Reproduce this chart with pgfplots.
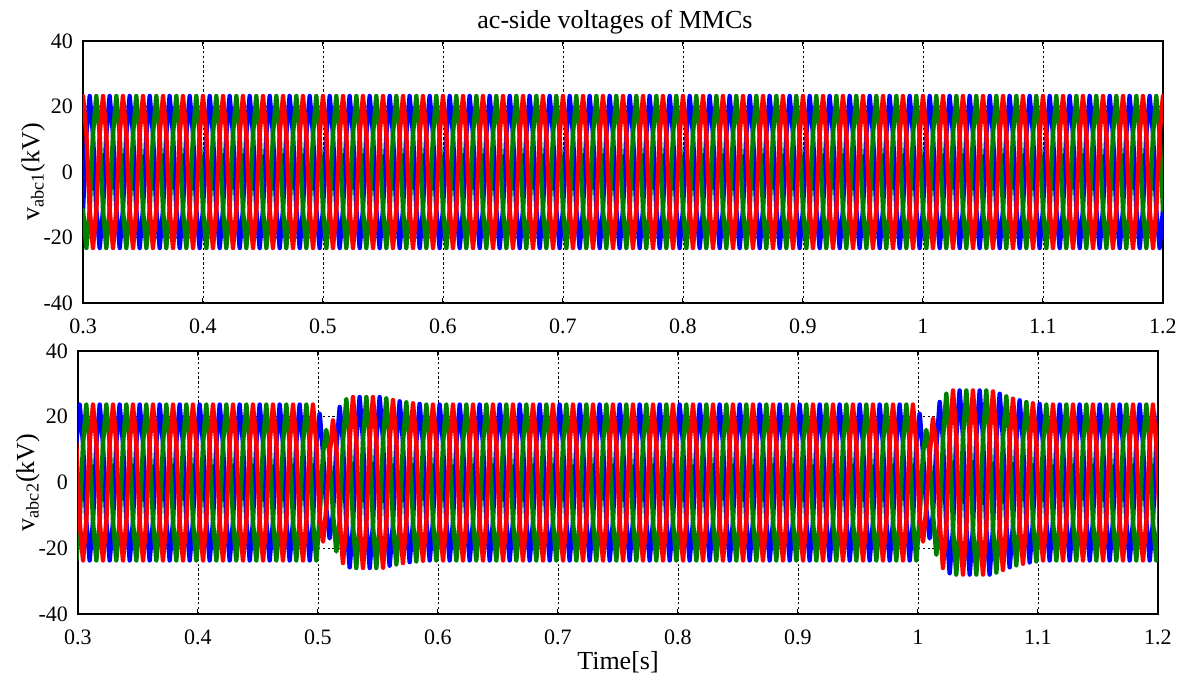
\documentclass[border=0pt]{standalone}
\usepackage{fontspec}
\setmainfont{Liberation Serif}
\usepackage{pgfplots}
\usepackage{pgfplotstable}
\pgfplotsset{compat=1.18}
\definecolor{mblue}{RGB}{0,0,255}
\definecolor{mgreen}{RGB}{0,128,0}
\definecolor{mred}{RGB}{255,0,0}

\pgfplotstableread{
t a b c
0.3000 -11.6 -11.6 23.2
0.3028 11.6 -23.2 11.6
0.3056 23.2 -11.6 -11.6
0.3083 11.6 11.6 -23.2
0.3111 -11.6 23.2 -11.6
0.3139 -23.2 11.6 11.6
0.3167 -11.6 -11.6 23.2
0.3194 11.6 -23.2 11.6
0.3222 23.2 -11.6 -11.6
0.3250 11.6 11.6 -23.2
0.3278 -11.6 23.2 -11.6
0.3306 -23.2 11.6 11.6
0.3333 -11.6 -11.6 23.2
0.3361 11.6 -23.2 11.6
0.3389 23.2 -11.6 -11.6
0.3417 11.6 11.6 -23.2
0.3444 -11.6 23.2 -11.6
0.3472 -23.2 11.6 11.6
0.3500 -11.6 -11.6 23.2
0.3528 11.6 -23.2 11.6
0.3556 23.2 -11.6 -11.6
0.3583 11.6 11.6 -23.2
0.3611 -11.6 23.2 -11.6
0.3639 -23.2 11.6 11.6
0.3667 -11.6 -11.6 23.2
0.3694 11.6 -23.2 11.6
0.3722 23.2 -11.6 -11.6
0.3750 11.6 11.6 -23.2
0.3778 -11.6 23.2 -11.6
0.3806 -23.2 11.6 11.6
0.3833 -11.6 -11.6 23.2
0.3861 11.6 -23.2 11.6
0.3889 23.2 -11.6 -11.6
0.3917 11.6 11.6 -23.2
0.3944 -11.6 23.2 -11.6
0.3972 -23.2 11.6 11.6
0.4000 -11.6 -11.6 23.2
0.4028 11.6 -23.2 11.6
0.4056 23.2 -11.6 -11.6
0.4083 11.6 11.6 -23.2
0.4111 -11.6 23.2 -11.6
0.4139 -23.2 11.6 11.6
0.4167 -11.6 -11.6 23.2
0.4194 11.6 -23.2 11.6
0.4222 23.2 -11.6 -11.6
0.4250 11.6 11.6 -23.2
0.4278 -11.6 23.2 -11.6
0.4306 -23.2 11.6 11.6
0.4333 -11.6 -11.6 23.2
0.4361 11.6 -23.2 11.6
0.4389 23.2 -11.6 -11.6
0.4417 11.6 11.6 -23.2
0.4444 -11.6 23.2 -11.6
0.4472 -23.2 11.6 11.6
0.4500 -11.6 -11.6 23.2
0.4528 11.6 -23.2 11.6
0.4556 23.2 -11.6 -11.6
0.4583 11.6 11.6 -23.2
0.4611 -11.6 23.2 -11.6
0.4639 -23.2 11.6 11.6
0.4667 -11.6 -11.6 23.2
0.4694 11.6 -23.2 11.6
0.4722 23.2 -11.6 -11.6
0.4750 11.6 11.6 -23.2
0.4778 -11.6 23.2 -11.6
0.4806 -23.2 11.6 11.6
0.4833 -11.6 -11.6 23.2
0.4861 11.6 -23.2 11.6
0.4889 23.2 -11.6 -11.6
0.4917 11.6 11.6 -23.2
0.4944 -11.6 23.2 -11.6
0.4972 -23.2 11.6 11.6
0.5000 -11.6 -11.6 23.2
0.5028 11.6 -23.2 11.6
0.5056 23.2 -11.6 -11.6
0.5083 11.6 11.6 -23.2
0.5111 -11.6 23.2 -11.6
0.5139 -23.2 11.6 11.6
0.5167 -11.6 -11.6 23.2
0.5194 11.6 -23.2 11.6
0.5222 23.2 -11.6 -11.6
0.5250 11.6 11.6 -23.2
0.5278 -11.6 23.2 -11.6
0.5306 -23.2 11.6 11.6
0.5333 -11.6 -11.6 23.2
0.5361 11.6 -23.2 11.6
0.5389 23.2 -11.6 -11.6
0.5417 11.6 11.6 -23.2
0.5444 -11.6 23.2 -11.6
0.5472 -23.2 11.6 11.6
0.5500 -11.6 -11.6 23.2
0.5528 11.6 -23.2 11.6
0.5556 23.2 -11.6 -11.6
0.5583 11.6 11.6 -23.2
0.5611 -11.6 23.2 -11.6
0.5639 -23.2 11.6 11.6
0.5667 -11.6 -11.6 23.2
0.5694 11.6 -23.2 11.6
0.5722 23.2 -11.6 -11.6
0.5750 11.6 11.6 -23.2
0.5778 -11.6 23.2 -11.6
0.5806 -23.2 11.6 11.6
0.5833 -11.6 -11.6 23.2
0.5861 11.6 -23.2 11.6
0.5889 23.2 -11.6 -11.6
0.5917 11.6 11.6 -23.2
0.5944 -11.6 23.2 -11.6
0.5972 -23.2 11.6 11.6
0.6000 -11.6 -11.6 23.2
0.6028 11.6 -23.2 11.6
0.6056 23.2 -11.6 -11.6
0.6083 11.6 11.6 -23.2
0.6111 -11.6 23.2 -11.6
0.6139 -23.2 11.6 11.6
0.6167 -11.6 -11.6 23.2
0.6194 11.6 -23.2 11.6
0.6222 23.2 -11.6 -11.6
0.6250 11.6 11.6 -23.2
0.6278 -11.6 23.2 -11.6
0.6306 -23.2 11.6 11.6
0.6333 -11.6 -11.6 23.2
0.6361 11.6 -23.2 11.6
0.6389 23.2 -11.6 -11.6
0.6417 11.6 11.6 -23.2
0.6444 -11.6 23.2 -11.6
0.6472 -23.2 11.6 11.6
0.6500 -11.6 -11.6 23.2
0.6528 11.6 -23.2 11.6
0.6556 23.2 -11.6 -11.6
0.6583 11.6 11.6 -23.2
0.6611 -11.6 23.2 -11.6
0.6639 -23.2 11.6 11.6
0.6667 -11.6 -11.6 23.2
0.6694 11.6 -23.2 11.6
0.6722 23.2 -11.6 -11.6
0.6750 11.6 11.6 -23.2
0.6778 -11.6 23.2 -11.6
0.6806 -23.2 11.6 11.6
0.6833 -11.6 -11.6 23.2
0.6861 11.6 -23.2 11.6
0.6889 23.2 -11.6 -11.6
0.6917 11.6 11.6 -23.2
0.6944 -11.6 23.2 -11.6
0.6972 -23.2 11.6 11.6
0.7000 -11.6 -11.6 23.2
0.7028 11.6 -23.2 11.6
0.7056 23.2 -11.6 -11.6
0.7083 11.6 11.6 -23.2
0.7111 -11.6 23.2 -11.6
0.7139 -23.2 11.6 11.6
0.7167 -11.6 -11.6 23.2
0.7194 11.6 -23.2 11.6
0.7222 23.2 -11.6 -11.6
0.7250 11.6 11.6 -23.2
0.7278 -11.6 23.2 -11.6
0.7306 -23.2 11.6 11.6
0.7333 -11.6 -11.6 23.2
0.7361 11.6 -23.2 11.6
0.7389 23.2 -11.6 -11.6
0.7417 11.6 11.6 -23.2
0.7444 -11.6 23.2 -11.6
0.7472 -23.2 11.6 11.6
0.7500 -11.6 -11.6 23.2
0.7528 11.6 -23.2 11.6
0.7556 23.2 -11.6 -11.6
0.7583 11.6 11.6 -23.2
0.7611 -11.6 23.2 -11.6
0.7639 -23.2 11.6 11.6
0.7667 -11.6 -11.6 23.2
0.7694 11.6 -23.2 11.6
0.7722 23.2 -11.6 -11.6
0.7750 11.6 11.6 -23.2
0.7778 -11.6 23.2 -11.6
0.7806 -23.2 11.6 11.6
0.7833 -11.6 -11.6 23.2
0.7861 11.6 -23.2 11.6
0.7889 23.2 -11.6 -11.6
0.7917 11.6 11.6 -23.2
0.7944 -11.6 23.2 -11.6
0.7972 -23.2 11.6 11.6
0.8000 -11.6 -11.6 23.2
0.8028 11.6 -23.2 11.6
0.8056 23.2 -11.6 -11.6
0.8083 11.6 11.6 -23.2
0.8111 -11.6 23.2 -11.6
0.8139 -23.2 11.6 11.6
0.8167 -11.6 -11.6 23.2
0.8194 11.6 -23.2 11.6
0.8222 23.2 -11.6 -11.6
0.8250 11.6 11.6 -23.2
0.8278 -11.6 23.2 -11.6
0.8306 -23.2 11.6 11.6
0.8333 -11.6 -11.6 23.2
0.8361 11.6 -23.2 11.6
0.8389 23.2 -11.6 -11.6
0.8417 11.6 11.6 -23.2
0.8444 -11.6 23.2 -11.6
0.8472 -23.2 11.6 11.6
0.8500 -11.6 -11.6 23.2
0.8528 11.6 -23.2 11.6
0.8556 23.2 -11.6 -11.6
0.8583 11.6 11.6 -23.2
0.8611 -11.6 23.2 -11.6
0.8639 -23.2 11.6 11.6
0.8667 -11.6 -11.6 23.2
0.8694 11.6 -23.2 11.6
0.8722 23.2 -11.6 -11.6
0.8750 11.6 11.6 -23.2
0.8778 -11.6 23.2 -11.6
0.8806 -23.2 11.6 11.6
0.8833 -11.6 -11.6 23.2
0.8861 11.6 -23.2 11.6
0.8889 23.2 -11.6 -11.6
0.8917 11.6 11.6 -23.2
0.8944 -11.6 23.2 -11.6
0.8972 -23.2 11.6 11.6
0.9000 -11.6 -11.6 23.2
0.9028 11.6 -23.2 11.6
0.9056 23.2 -11.6 -11.6
0.9083 11.6 11.6 -23.2
0.9111 -11.6 23.2 -11.6
0.9139 -23.2 11.6 11.6
0.9167 -11.6 -11.6 23.2
0.9194 11.6 -23.2 11.6
0.9222 23.2 -11.6 -11.6
0.9250 11.6 11.6 -23.2
0.9278 -11.6 23.2 -11.6
0.9306 -23.2 11.6 11.6
0.9333 -11.6 -11.6 23.2
0.9361 11.6 -23.2 11.6
0.9389 23.2 -11.6 -11.6
0.9417 11.6 11.6 -23.2
0.9444 -11.6 23.2 -11.6
0.9472 -23.2 11.6 11.6
0.9500 -11.6 -11.6 23.2
0.9528 11.6 -23.2 11.6
0.9556 23.2 -11.6 -11.6
0.9583 11.6 11.6 -23.2
0.9611 -11.6 23.2 -11.6
0.9639 -23.2 11.6 11.6
0.9667 -11.6 -11.6 23.2
0.9694 11.6 -23.2 11.6
0.9722 23.2 -11.6 -11.6
0.9750 11.6 11.6 -23.2
0.9778 -11.6 23.2 -11.6
0.9806 -23.2 11.6 11.6
0.9833 -11.6 -11.6 23.2
0.9861 11.6 -23.2 11.6
0.9889 23.2 -11.6 -11.6
0.9917 11.6 11.6 -23.2
0.9944 -11.6 23.2 -11.6
0.9972 -23.2 11.6 11.6
1.0000 -11.6 -11.6 23.2
1.0028 11.6 -23.2 11.6
1.0056 23.2 -11.6 -11.6
1.0083 11.6 11.6 -23.2
1.0111 -11.6 23.2 -11.6
1.0139 -23.2 11.6 11.6
1.0167 -11.6 -11.6 23.2
1.0194 11.6 -23.2 11.6
1.0222 23.2 -11.6 -11.6
1.0250 11.6 11.6 -23.2
1.0278 -11.6 23.2 -11.6
1.0306 -23.2 11.6 11.6
1.0333 -11.6 -11.6 23.2
1.0361 11.6 -23.2 11.6
1.0389 23.2 -11.6 -11.6
1.0417 11.6 11.6 -23.2
1.0444 -11.6 23.2 -11.6
1.0472 -23.2 11.6 11.6
1.0500 -11.6 -11.6 23.2
1.0528 11.6 -23.2 11.6
1.0556 23.2 -11.6 -11.6
1.0583 11.6 11.6 -23.2
1.0611 -11.6 23.2 -11.6
1.0639 -23.2 11.6 11.6
1.0667 -11.6 -11.6 23.2
1.0694 11.6 -23.2 11.6
1.0722 23.2 -11.6 -11.6
1.0750 11.6 11.6 -23.2
1.0778 -11.6 23.2 -11.6
1.0806 -23.2 11.6 11.6
1.0833 -11.6 -11.6 23.2
1.0861 11.6 -23.2 11.6
1.0889 23.2 -11.6 -11.6
1.0917 11.6 11.6 -23.2
1.0944 -11.6 23.2 -11.6
1.0972 -23.2 11.6 11.6
1.1000 -11.6 -11.6 23.2
1.1028 11.6 -23.2 11.6
1.1056 23.2 -11.6 -11.6
1.1083 11.6 11.6 -23.2
1.1111 -11.6 23.2 -11.6
1.1139 -23.2 11.6 11.6
1.1167 -11.6 -11.6 23.2
1.1194 11.6 -23.2 11.6
1.1222 23.2 -11.6 -11.6
1.1250 11.6 11.6 -23.2
1.1278 -11.6 23.2 -11.6
1.1306 -23.2 11.6 11.6
1.1333 -11.6 -11.6 23.2
1.1361 11.6 -23.2 11.6
1.1389 23.2 -11.6 -11.6
1.1417 11.6 11.6 -23.2
1.1444 -11.6 23.2 -11.6
1.1472 -23.2 11.6 11.6
1.1500 -11.6 -11.6 23.2
1.1528 11.6 -23.2 11.6
1.1556 23.2 -11.6 -11.6
1.1583 11.6 11.6 -23.2
1.1611 -11.6 23.2 -11.6
1.1639 -23.2 11.6 11.6
1.1667 -11.6 -11.6 23.2
1.1694 11.6 -23.2 11.6
1.1722 23.2 -11.6 -11.6
1.1750 11.6 11.6 -23.2
1.1778 -11.6 23.2 -11.6
1.1806 -23.2 11.6 11.6
1.1833 -11.6 -11.6 23.2
1.1861 11.6 -23.2 11.6
1.1889 23.2 -11.6 -11.6
1.1917 11.6 11.6 -23.2
1.1944 -11.6 23.2 -11.6
1.1972 -23.2 11.6 11.6
1.2000 -11.6 -11.6 23.2
}\topdata

\pgfplotstableread{
t a b c
0.2986 11.9 -23.7 11.9
0.3014 23.7 -11.9 -11.9
0.3042 11.9 11.9 -23.7
0.3069 -11.9 23.7 -11.9
0.3097 -23.7 11.9 11.9
0.3125 -11.9 -11.9 23.7
0.3153 11.9 -23.7 11.9
0.3181 23.7 -11.9 -11.9
0.3208 11.9 11.9 -23.7
0.3236 -11.9 23.7 -11.9
0.3264 -23.7 11.9 11.9
0.3292 -11.9 -11.9 23.7
0.3319 11.9 -23.7 11.9
0.3347 23.7 -11.9 -11.9
0.3375 11.9 11.9 -23.7
0.3403 -11.9 23.7 -11.9
0.3431 -23.7 11.9 11.9
0.3458 -11.9 -11.9 23.7
0.3486 11.9 -23.7 11.9
0.3514 23.7 -11.9 -11.9
0.3542 11.9 11.9 -23.7
0.3569 -11.9 23.7 -11.9
0.3597 -23.7 11.9 11.9
0.3625 -11.9 -11.9 23.7
0.3653 11.9 -23.7 11.9
0.3681 23.7 -11.9 -11.9
0.3708 11.9 11.9 -23.7
0.3736 -11.9 23.7 -11.9
0.3764 -23.7 11.9 11.9
0.3792 -11.9 -11.9 23.7
0.3819 11.9 -23.7 11.9
0.3847 23.7 -11.9 -11.9
0.3875 11.9 11.9 -23.7
0.3903 -11.9 23.7 -11.9
0.3931 -23.7 11.9 11.9
0.3958 -11.9 -11.9 23.7
0.3986 11.9 -23.7 11.9
0.4014 23.7 -11.9 -11.9
0.4042 11.9 11.9 -23.7
0.4069 -11.9 23.7 -11.9
0.4097 -23.7 11.9 11.9
0.4125 -11.9 -11.9 23.7
0.4153 11.9 -23.7 11.9
0.4181 23.7 -11.9 -11.9
0.4208 11.9 11.9 -23.7
0.4236 -11.9 23.7 -11.9
0.4264 -23.7 11.9 11.9
0.4292 -11.9 -11.9 23.7
0.4319 11.9 -23.7 11.9
0.4347 23.7 -11.9 -11.9
0.4375 11.9 11.9 -23.7
0.4403 -11.9 23.7 -11.9
0.4431 -23.7 11.9 11.9
0.4458 -11.9 -11.9 23.7
0.4486 11.9 -23.7 11.9
0.4514 23.7 -11.9 -11.9
0.4542 11.9 11.9 -23.7
0.4569 -11.9 23.7 -11.9
0.4597 -23.7 11.9 11.9
0.4625 -11.9 -11.9 23.7
0.4653 11.9 -23.7 11.9
0.4681 23.7 -11.9 -11.9
0.4708 11.9 11.9 -23.7
0.4736 -11.9 23.7 -11.9
0.4764 -23.7 11.9 11.9
0.4792 -11.9 -11.9 23.7
0.4819 11.9 -23.7 11.9
0.4847 23.7 -11.9 -11.9
0.4875 11.9 11.9 -23.7
0.4903 -11.9 23.7 -11.9
0.4931 -23.7 11.9 11.9
0.4958 -11.9 -11.9 23.7
0.4986 11.9 -23.7 11.9
0.5014 21 -10.5 -10.5
0.5042 9 9 -18
0.5069 -8 16 -8
0.5097 -17 8.5 8.5
0.5125 -9.5 -9.5 19
0.5153 10.5 -21 10.5
0.5181 23 -11.5 -11.5
0.5208 12.3 12.3 -24.5
0.5236 -12.7 25.3 -12.7
0.5264 -25.8 12.9 12.9
0.5292 -13 -13 26
0.5319 13 -26 13
0.5347 26 -13 -13
0.5375 13 13 -26
0.5403 -13 26 -13
0.5431 -26 13 13
0.5458 -13 -13 26
0.5486 13 -26 13
0.5514 26 -13 -13
0.5542 13 13 -25.9
0.5569 -12.8 25.6 -12.8
0.5597 -25.3 12.7 12.7
0.5625 -12.6 -12.6 25.1
0.5653 12.5 -24.9 12.5
0.5681 24.7 -12.4 -12.4
0.5708 12.3 12.3 -24.5
0.5736 -12.2 24.4 -12.2
0.5764 -24.2 12.1 12.1
0.5792 -12.1 -12.1 24.1
0.5819 12 -24 12
0.5847 23.9 -12 -12
0.5875 11.9 11.9 -23.8
0.5903 -11.9 23.7 -11.9
0.5931 -23.7 11.9 11.9
0.5958 -11.9 -11.9 23.7
0.5986 11.9 -23.7 11.9
0.6014 23.7 -11.9 -11.9
0.6042 11.9 11.9 -23.7
0.6069 -11.9 23.7 -11.9
0.6097 -23.7 11.9 11.9
0.6125 -11.9 -11.9 23.7
0.6153 11.9 -23.7 11.9
0.6181 23.7 -11.9 -11.9
0.6208 11.9 11.9 -23.7
0.6236 -11.9 23.7 -11.9
0.6264 -23.7 11.9 11.9
0.6292 -11.9 -11.9 23.7
0.6319 11.9 -23.7 11.9
0.6347 23.7 -11.9 -11.9
0.6375 11.9 11.9 -23.7
0.6403 -11.9 23.7 -11.9
0.6431 -23.7 11.9 11.9
0.6458 -11.9 -11.9 23.7
0.6486 11.9 -23.7 11.9
0.6514 23.7 -11.9 -11.9
0.6542 11.9 11.9 -23.7
0.6569 -11.9 23.7 -11.9
0.6597 -23.7 11.9 11.9
0.6625 -11.9 -11.9 23.7
0.6653 11.9 -23.7 11.9
0.6681 23.7 -11.9 -11.9
0.6708 11.9 11.9 -23.7
0.6736 -11.9 23.7 -11.9
0.6764 -23.7 11.9 11.9
0.6792 -11.9 -11.9 23.7
0.6819 11.9 -23.7 11.9
0.6847 23.7 -11.9 -11.9
0.6875 11.9 11.9 -23.7
0.6903 -11.9 23.7 -11.9
0.6931 -23.7 11.9 11.9
0.6958 -11.9 -11.9 23.7
0.6986 11.9 -23.7 11.9
0.7014 23.7 -11.9 -11.9
0.7042 11.9 11.9 -23.7
0.7069 -11.9 23.7 -11.9
0.7097 -23.7 11.9 11.9
0.7125 -11.9 -11.9 23.7
0.7153 11.9 -23.7 11.9
0.7181 23.7 -11.9 -11.9
0.7208 11.9 11.9 -23.7
0.7236 -11.9 23.7 -11.9
0.7264 -23.7 11.9 11.9
0.7292 -11.9 -11.9 23.7
0.7319 11.9 -23.7 11.9
0.7347 23.7 -11.9 -11.9
0.7375 11.9 11.9 -23.7
0.7403 -11.9 23.7 -11.9
0.7431 -23.7 11.9 11.9
0.7458 -11.9 -11.9 23.7
0.7486 11.9 -23.7 11.9
0.7514 23.7 -11.9 -11.9
0.7542 11.9 11.9 -23.7
0.7569 -11.9 23.7 -11.9
0.7597 -23.7 11.9 11.9
0.7625 -11.9 -11.9 23.7
0.7653 11.9 -23.7 11.9
0.7681 23.7 -11.9 -11.9
0.7708 11.9 11.9 -23.7
0.7736 -11.9 23.7 -11.9
0.7764 -23.7 11.9 11.9
0.7792 -11.9 -11.9 23.7
0.7819 11.9 -23.7 11.9
0.7847 23.7 -11.9 -11.9
0.7875 11.9 11.9 -23.7
0.7903 -11.9 23.7 -11.9
0.7931 -23.7 11.9 11.9
0.7958 -11.9 -11.9 23.7
0.7986 11.9 -23.7 11.9
0.8014 23.7 -11.9 -11.9
0.8042 11.9 11.9 -23.7
0.8069 -11.9 23.7 -11.9
0.8097 -23.7 11.9 11.9
0.8125 -11.9 -11.9 23.7
0.8153 11.9 -23.7 11.9
0.8181 23.7 -11.9 -11.9
0.8208 11.9 11.9 -23.7
0.8236 -11.9 23.7 -11.9
0.8264 -23.7 11.9 11.9
0.8292 -11.9 -11.9 23.7
0.8319 11.9 -23.7 11.9
0.8347 23.7 -11.9 -11.9
0.8375 11.9 11.9 -23.7
0.8403 -11.9 23.7 -11.9
0.8431 -23.7 11.9 11.9
0.8458 -11.9 -11.9 23.7
0.8486 11.9 -23.7 11.9
0.8514 23.7 -11.9 -11.9
0.8542 11.9 11.9 -23.7
0.8569 -11.9 23.7 -11.9
0.8597 -23.7 11.9 11.9
0.8625 -11.9 -11.9 23.7
0.8653 11.9 -23.7 11.9
0.8681 23.7 -11.9 -11.9
0.8708 11.9 11.9 -23.7
0.8736 -11.9 23.7 -11.9
0.8764 -23.7 11.9 11.9
0.8792 -11.9 -11.9 23.7
0.8819 11.9 -23.7 11.9
0.8847 23.7 -11.9 -11.9
0.8875 11.9 11.9 -23.7
0.8903 -11.9 23.7 -11.9
0.8931 -23.7 11.9 11.9
0.8958 -11.9 -11.9 23.7
0.8986 11.9 -23.7 11.9
0.9014 23.7 -11.9 -11.9
0.9042 11.9 11.9 -23.7
0.9069 -11.9 23.7 -11.9
0.9097 -23.7 11.9 11.9
0.9125 -11.9 -11.9 23.7
0.9153 11.9 -23.7 11.9
0.9181 23.7 -11.9 -11.9
0.9208 11.9 11.9 -23.7
0.9236 -11.9 23.7 -11.9
0.9264 -23.7 11.9 11.9
0.9292 -11.9 -11.9 23.7
0.9319 11.9 -23.7 11.9
0.9347 23.7 -11.9 -11.9
0.9375 11.9 11.9 -23.7
0.9403 -11.9 23.7 -11.9
0.9431 -23.7 11.9 11.9
0.9458 -11.9 -11.9 23.7
0.9486 11.9 -23.7 11.9
0.9514 23.7 -11.9 -11.9
0.9542 11.9 11.9 -23.7
0.9569 -11.9 23.7 -11.9
0.9597 -23.7 11.9 11.9
0.9625 -11.9 -11.9 23.7
0.9653 11.9 -23.7 11.9
0.9681 23.7 -11.9 -11.9
0.9708 11.9 11.9 -23.7
0.9736 -11.9 23.7 -11.9
0.9764 -23.7 11.9 11.9
0.9792 -11.9 -11.9 23.7
0.9819 11.9 -23.7 11.9
0.9847 23.7 -11.9 -11.9
0.9875 11.9 11.9 -23.7
0.9903 -11.9 23.7 -11.9
0.9931 -23.7 11.9 11.9
0.9958 -11.9 -11.9 23.7
0.9986 11.9 -23.7 11.9
1.0014 21 -10.5 -10.5
1.0042 9 9 -18
1.0069 -8 16 -8
1.0097 -17 8.5 8.5
1.0125 -9.8 -9.8 19.5
1.0153 11 -22 11
1.0181 24.5 -12.3 -12.3
1.0208 13 13 -26
1.0236 -13.5 27 -13.5
1.0264 -27.6 13.8 13.8
1.0292 -14 -14 28
1.0319 14 -28 14
1.0347 28 -14 -14
1.0375 14 14 -28
1.0403 -14 28 -14
1.0431 -28 14 14
1.0458 -14 -14 28
1.0486 14 -28 14
1.0514 28 -14 -14
1.0542 14 14 -28
1.0569 -14 28 -14
1.0597 -28 14 14
1.0625 -13.9 -13.9 27.7
1.0653 13.7 -27.4 13.7
1.0681 27 -13.5 -13.5
1.0708 13.3 13.3 -26.6
1.0736 -13.1 26.2 -13.1
1.0764 -25.8 12.9 12.9
1.0792 -12.8 -12.8 25.5
1.0819 12.6 -25.2 12.6
1.0847 25 -12.5 -12.5
1.0875 12.4 12.4 -24.7
1.0903 -12.3 24.5 -12.3
1.0931 -24.3 12.2 12.2
1.0958 -12.1 -12.1 24.1
1.0986 12 -24 12
1.1014 23.9 -12 -12
1.1042 11.9 11.9 -23.7
1.1069 -11.9 23.7 -11.9
1.1097 -23.7 11.9 11.9
1.1125 -11.9 -11.9 23.7
1.1153 11.9 -23.7 11.9
1.1181 23.7 -11.9 -11.9
1.1208 11.9 11.9 -23.7
1.1236 -11.9 23.7 -11.9
1.1264 -23.7 11.9 11.9
1.1292 -11.9 -11.9 23.7
1.1319 11.9 -23.7 11.9
1.1347 23.7 -11.9 -11.9
1.1375 11.9 11.9 -23.7
1.1403 -11.9 23.7 -11.9
1.1431 -23.7 11.9 11.9
1.1458 -11.9 -11.9 23.7
1.1486 11.9 -23.7 11.9
1.1514 23.7 -11.9 -11.9
1.1542 11.9 11.9 -23.7
1.1569 -11.9 23.7 -11.9
1.1597 -23.7 11.9 11.9
1.1625 -11.9 -11.9 23.7
1.1653 11.9 -23.7 11.9
1.1681 23.7 -11.9 -11.9
1.1708 11.9 11.9 -23.7
1.1736 -11.9 23.7 -11.9
1.1764 -23.7 11.9 11.9
1.1792 -11.9 -11.9 23.7
1.1819 11.9 -23.7 11.9
1.1847 23.7 -11.9 -11.9
1.1875 11.9 11.9 -23.7
1.1903 -11.9 23.7 -11.9
1.1931 -23.7 11.9 11.9
1.1958 -11.9 -11.9 23.7
1.1986 11.9 -23.7 11.9
1.2014 23.7 -11.9 -11.9
}\botdata

\pgfplotsset{
  mmc/.style={
    scale only axis, width=540pt,
    xmin=0.3, xmax=1.2, ymin=-40, ymax=40,
    xtick={0.3,0.4,0.5,0.6,0.7,0.8,0.9,1,1.1,1.2},
    xticklabels={0.3,0.4,0.5,0.6,0.7,0.8,0.9,1,1.1,1.2},
    ytick={-40,-20,0,20,40},
    yticklabels={-40,-20,0,20,40},
    grid=major,
    major grid style={black, line width=0.4pt, dash pattern=on 1.2pt off 1.2pt},
    tick align=inside, major tick length=2.5pt,
    every tick/.style={black, line width=0.5pt},
    axis line style={black, line width=0.6pt},
    tick label style={font=\fontsize{11}{13}\selectfont},
    xticklabel style={yshift=-4.5pt},
    yticklabel style={xshift=-1.5pt},
    every axis y label/.style={at={(axis description cs:0,0.5)}, xshift=-25pt, rotate=90, anchor=center, font=\fontsize{13}{15}\selectfont},
    every axis x label/.style={at={(axis description cs:0.5,0)}, yshift=-24pt, anchor=center, font=\fontsize{13}{15}\selectfont},
    every axis title/.style={at={(axis description cs:0.5,1)}, anchor=base, yshift=6.5pt, xshift=-4pt, font=\fontsize{13}{15}\selectfont},
  },
  ph/.style={line width=2.2pt, line join=round, line cap=round, mark=none},
}

\begin{document}
\begin{tikzpicture}
\useasboundingbox (0,0) rectangle (595pt,340.5pt);
\begin{axis}[mmc, height=131pt, at={(41.5pt,189pt)}, anchor=south west,
  title={ac-side voltages of MMCs},
  ylabel={v\textsubscript{abc1}(kV)}]
\addplot[ph, color=mblue] table[x=t, y=a] {\topdata};
\addplot[ph, color=mgreen] table[x=t, y=b] {\topdata};
\addplot[ph, color=mred] table[x=t, y=c] {\topdata};
\end{axis}
\begin{axis}[mmc, height=131.5pt, at={(39pt,33.5pt)}, anchor=south west,
  xlabel={Time[s]},
  ylabel={v\textsubscript{abc2}(kV)}]
\addplot[ph, color=mblue] table[x=t, y=a] {\botdata};
\addplot[ph, color=mgreen] table[x=t, y=b] {\botdata};
\addplot[ph, color=mred] table[x=t, y=c] {\botdata};
\end{axis}
\end{tikzpicture}
\end{document}
